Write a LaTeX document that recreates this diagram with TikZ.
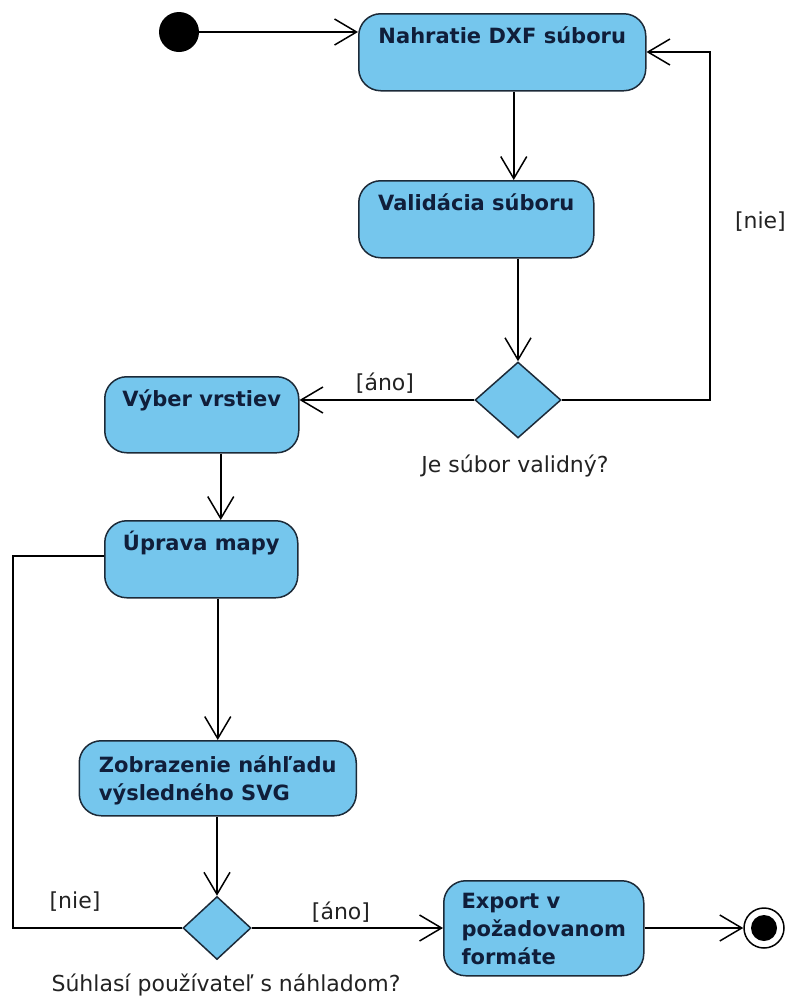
\documentclass[tikz,border=0pt]{standalone}
\usepackage{fontspec}
\setmainfont{DejaVu Sans}
\usetikzlibrary{arrows.meta,shapes.geometric,calc}

\definecolor{actfill}{RGB}{117,198,237}
\definecolor{actline}{RGB}{28,42,56}
\definecolor{acttext}{RGB}{16,30,58}
\definecolor{guardtext}{RGB}{34,34,34}

\tikzset{
  activity/.style={draw=actline, line width=1.5pt, fill=actfill, rounded corners=22pt,
    anchor=north west, inner xsep=0pt, inner ysep=0pt, align=left, text=acttext,
    font=\fontsize{21}{28}\selectfont\bfseries},
  decision/.style={diamond, draw=actline, line width=1.5pt, fill=actfill, inner sep=0pt},
  flow/.style={line width=1.5pt, -{Straight Barb[length=22pt,width=26pt,line width=1.5pt]}},
  plain/.style={line width=1.5pt},
  guard/.style={text=guardtext, font=\fontsize{22}{26}\selectfont, inner sep=0pt},
  startdot/.style={circle, fill=black, inner sep=0pt},
}

\begin{document}
\begin{tikzpicture}[x=1pt,y=-1pt]
    \useasboundingbox (0,0) rectangle (788,1002);

    % activities
    \node[activity, minimum width=287pt, minimum height=77pt, text height=30pt, text depth=47pt] (load) at (358,13) {Nahratie DXF súboru};
    \node[activity, minimum width=235pt, minimum height=77pt, text height=30pt, text depth=47pt] (valid) at (358,180) {Validácia súboru};
    \node[activity, minimum width=194pt, minimum height=76pt, text height=30pt, text depth=46pt] (select) at (104,376) {Výber vrstiev};
    \node[activity, minimum width=193pt, minimum height=77pt, text height=30pt, text depth=47pt] (edit) at (104,520) {Úprava mapy};
    \node[activity, minimum width=277pt, minimum height=75pt, text height=60pt, text depth=15pt] (preview) at (78.5,740) {Zobrazenie náhľadu\\výsledného SVG};
    \node[activity, minimum width=200pt, minimum height=95pt, text height=84pt, text depth=11pt] (export) at (443,880) {Export v\\požadovanom\\formáte};

    % decisions
    \node[decision, minimum width=86pt, minimum height=76pt] (dec1) at (518,400) {};
    \node[decision, minimum width=68pt, minimum height=63pt] (dec2) at (217,928) {};

    % start / end
    \node[startdot, minimum size=40pt] (start) at (179,32) {};
    \node[circle, draw=black, line width=1.5pt, fill=white, minimum size=40pt, inner sep=0pt] (stop) at (764,928) {};
    \node[startdot, minimum size=26pt] (stopdot) at (stop) {};

    \coordinate (nieR) at (710,52);
    \coordinate (nieL) at (13,556);

    % flows
    \draw[flow] (start.east |- 0,32) -- (load.west |- 0,32);
    \draw[flow] ([xshift=11.5pt]load.south) -- ([xshift=11.5pt]load.south |- valid.north);
    \draw[flow] (valid.south -| dec1.north) -- (dec1.north);
    \draw[plain] (dec1.east) -| (nieR) -- ([xshift=1pt]load.east |- nieR);
    \draw[flow] (nieR) -- (load.east |- nieR);
    \draw[flow] (dec1.west) -- (dec1.west -| select.east);
    \draw[flow] ([xshift=19pt]select.south) -- ([xshift=19pt]select.south |- edit.north);
    \draw[flow] (edit.south -| preview.north) -- (preview.north);
    \draw[flow] (preview.south -| dec2.north) -- (dec2.north);
    \draw[plain] (dec2.west) -| (nieL) -- (edit.west |- nieL);
    \draw[flow] (dec2.east) -- (dec2.east -| export.west);
    \draw[flow] (export.east |- stop) -- (stop.west);

    % guards
    \node[guard, anchor=east] (g1) at (786,222) {[nie]};
    \node[guard] (g2) at (385,383) {[áno]};
    \node[guard] (q1) at (515,466) {Je súbor validný?};
    \node[guard] (g3) at (75,902) {[nie]};
    \node[guard] (g4) at (341,912) {[áno]};
    \node[guard] (q2) at (226,985) {Súhlasí používateľ s náhladom?};
\end{tikzpicture}
\end{document}
